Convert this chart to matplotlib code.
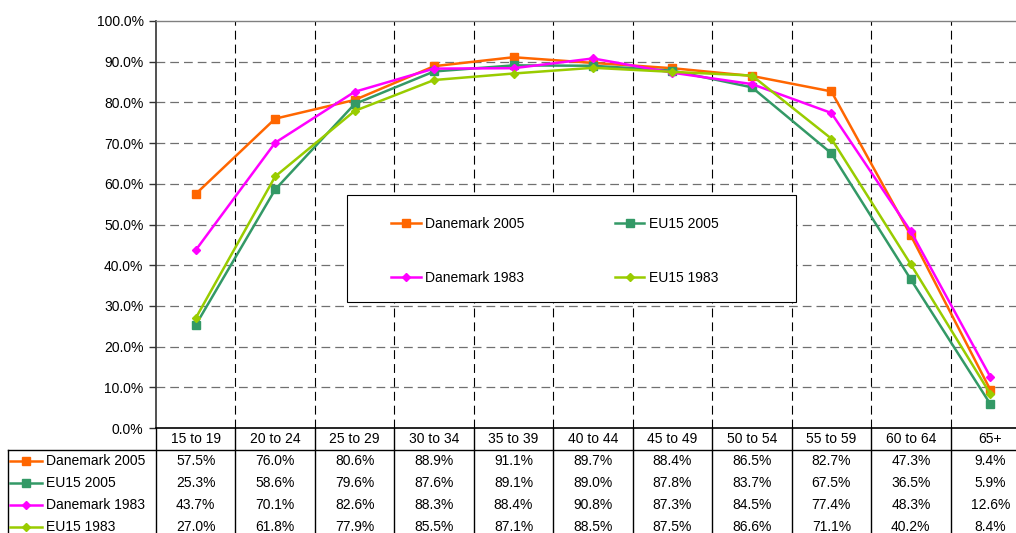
import matplotlib
matplotlib.use('Agg')
import matplotlib.pyplot as plt
import numpy as np
from matplotlib.patches import Rectangle
from matplotlib.lines import Line2D

plt.rcParams['font.family'] = ['Liberation Sans', 'DejaVu Sans']
plt.rcParams['font.size'] = 10

# data
age_groups = ['15 to 19', '20 to 24', '25 to 29', '30 to 34', '35 to 39', '40 to 44',
              '45 to 49', '50 to 54', '55 to 59', '60 to 64', '65+']
dk_2005 = [57.5, 76.0, 80.6, 88.9, 91.1, 89.7, 88.4, 86.5, 82.7, 47.3, 9.4]
eu_2005 = [25.3, 58.6, 79.6, 87.6, 89.1, 89.0, 87.8, 83.7, 67.5, 36.5, 5.9]
dk_1983 = [43.7, 70.1, 82.6, 88.3, 88.4, 90.8, 87.3, 84.5, 77.4, 48.3, 12.6]
eu_1983 = [27.0, 61.8, 77.9, 85.5, 87.1, 88.5, 87.5, 86.6, 71.1, 40.2, 8.4]

series_names = ['Danemark 2005', 'EU15 2005', 'Danemark 1983', 'EU15 1983']
series_vals = [dk_2005, eu_2005, dk_1983, eu_1983]
colors = ['#FF6600', '#339966', '#FF00FF', '#99CC00']
markers = ['s', 's', 'D', 'D']
msizes = [6, 6, 4.5, 4.5]

W, H = 1016, 533
fig = plt.figure(figsize=(W / 100, H / 100), dpi=100)

# plot area in pixels: x 156..1030 (right part cut off), y 21..428
px_l, px_r, px_t, px_b = 156, 1030, 21, 428
ax = fig.add_axes([px_l / W, (H - px_b) / H, (px_r - px_l) / W, (px_b - px_t) / H])
x = np.arange(len(age_groups))
ax.set_xlim(-0.5, len(age_groups) - 0.5)
ax.set_ylim(0, 100)

ax.set_yticks(np.arange(0, 101, 10))
ax.set_yticklabels(['%.1f%%' % v for v in np.arange(0, 101, 10)])
ax.tick_params(axis='y', length=5, width=1, color='#333333', pad=4)
ax.set_xticks([])

for v in np.arange(10, 100, 10):
    ax.axhline(v, color='#707070', lw=0.9, ls=(0, (7, 4)), zorder=1)
for b in x[:-1] + 0.5:
    ax.axvline(b, color='black', lw=0.8, ls=(0, (8, 4.5)), zorder=1)

ax.spines['top'].set_color('#808080')
ax.spines['top'].set_linewidth(1.0)
ax.spines['left'].set_color('#333333')
ax.spines['left'].set_linewidth(1.2)
ax.spines['bottom'].set_color('black')
ax.spines['bottom'].set_linewidth(1.2)
ax.spines['right'].set_visible(False)

for i, (vals, c, m, ms) in enumerate(zip(series_vals, colors, markers, msizes)):
    ax.plot(x, vals, color=c, lw=1.8, marker=m, markersize=ms, label=series_names[i],
            zorder=3 + i)

# legend box (two rows, two columns; matplotlib fills column-wise)
box = Rectangle((347 / W, (H - 302) / H), 449 / W, 107 / H, transform=fig.transFigure,
                facecolor='white', edgecolor='black', lw=0.8, zorder=8)
ax.add_patch(box)
handles = [Line2D([], [], color=c, lw=1.8, marker=m, markersize=ms)
           for c, m, ms in zip(colors, markers, msizes)]
order = [0, 2, 1, 3]
ax.legend([handles[k] for k in order], [series_names[k] for k in order], ncol=2,
          loc='upper left', bbox_to_anchor=(384 / W, (H - 210) / H),
          bbox_transform=fig.transFigure, frameon=False, borderpad=0,
          handlelength=2.15, handletextpad=0.3, columnspacing=6.5,
          labelspacing=2.9, fontsize=10).set_zorder(9)

# data table below the plot
row_h = 22
tab_l = 8
tax = fig.add_axes([tab_l / W, (H - px_b - 5 * row_h) / H, (px_r - tab_l) / W, 5 * row_h / H])
unit = (px_r - px_l) / len(age_groups)
x0 = -0.5 - (px_l - tab_l) / unit
tax.set_xlim(x0, len(age_groups) - 0.5)
tax.set_ylim(5, 0)
tax.axis('off')

for i, lab in enumerate(age_groups):
    tax.text(i, 0.5, lab, ha='center', va='center', fontsize=10)
for b in np.arange(len(age_groups) + 1) - 0.5:
    tax.plot([b, b], [0, 5], color='black', lw=1.0, clip_on=False)
tax.plot([x0, len(age_groups) - 0.5], [1, 1], color='black', lw=1.0, clip_on=False)
tax.plot([x0, x0], [1, 5], color='black', lw=1.0, clip_on=False)

for r, (name, vals, c, m, ms) in enumerate(zip(series_names, series_vals, colors, markers, msizes)):
    yy = r + 1.5
    kx0 = x0 + 2 / unit
    kx1 = x0 + 34 / unit
    tax.plot([kx0, kx1], [yy, yy], color=c, lw=1.8, clip_on=False)
    tax.plot([(kx0 + kx1) / 2], [yy], color=c, marker=m, markersize=ms, clip_on=False)
    tax.text(x0 + 38 / unit, yy, name, ha='left', va='center', fontsize=10)
    for i, v in enumerate(vals):
        tax.text(i, yy, '%.1f%%' % v, ha='center', va='center', fontsize=10)

fig.savefig('out.png', dpi=100)
